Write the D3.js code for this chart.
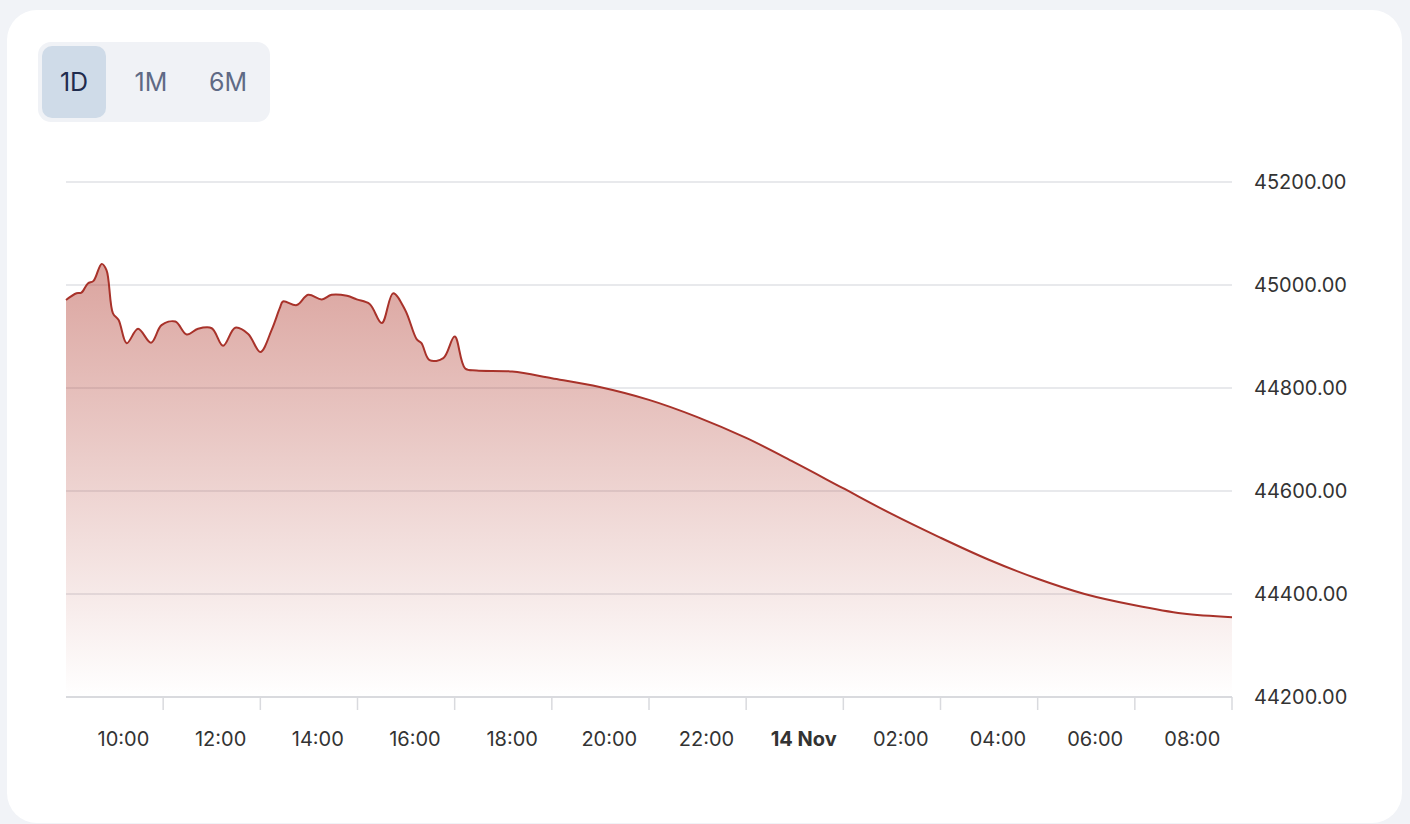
<!DOCTYPE html>
<html>
<head>
<meta charset="utf-8">
<script src="https://cdn.jsdelivr.net/npm/d3@7"></script>
<style>
  html, body { margin: 0; padding: 0; background: #f1f3f7; }
  svg { display: block; }
  text { font-family: Inter, "Noto Sans", sans-serif; }
</style>
</head>
<body>
<svg id="chart" width="1410" height="824"></svg>
<script>
// ---- data ----
const times = [
  "2023-11-13T08:49","2023-11-13T09:02","2023-11-13T09:08","2023-11-13T09:16","2023-11-13T09:23",
  "2023-11-13T09:33","2023-11-13T09:39","2023-11-13T09:47","2023-11-13T09:54","2023-11-13T10:04",
  "2023-11-13T10:18","2023-11-13T10:34","2023-11-13T10:47","2023-11-13T11:04","2023-11-13T11:18",
  "2023-11-13T11:32","2023-11-13T11:49","2023-11-13T12:03","2023-11-13T12:18","2023-11-13T12:34",
  "2023-11-13T12:49","2023-11-13T13:03","2023-11-13T13:13","2023-11-13T13:17","2023-11-13T13:34",
  "2023-11-13T13:48","2023-11-13T14:05","2023-11-13T14:17","2023-11-13T14:36","2023-11-13T14:48",
  "2023-11-13T15:04","2023-11-13T15:19","2023-11-13T15:33","2023-11-13T15:48","2023-11-13T16:02",
  "2023-11-13T16:08","2023-11-13T16:18","2023-11-13T16:35","2023-11-13T16:49","2023-11-13T17:02",
  "2023-11-13T17:16","2023-11-13T18:00","2023-11-13T18:49","2023-11-13T19:48","2023-11-13T20:49",
  "2023-11-13T21:48","2023-11-13T22:49","2023-11-13T23:48","2023-11-14T00:48","2023-11-14T01:48",
  "2023-11-14T02:48","2023-11-14T03:48","2023-11-14T04:48","2023-11-14T05:47","2023-11-14T06:49",
  "2023-11-14T07:48","2023-11-14T08:49"
];
const prices = [
  44971, 44984, 44985, 45003, 45008,
  45041, 45029, 44945, 44932, 44887,
  44915, 44888, 44922, 44929, 44904,
  44915, 44916, 44882, 44917, 44905,
  44870, 44913, 44955, 44968, 44961,
  44981, 44972, 44981, 44979, 44972,
  44963, 44926, 44984, 44951, 44895,
  44887, 44854, 44858, 44900, 44838,
  44834, 44832, 44819, 44802, 44777,
  44744, 44703, 44656, 44606, 44556,
  44510, 44467, 44430, 44400, 44378,
  44362, 44355
];
const yTicks = [44200, 44400, 44600, 44800, 45000, 45200];
const xTickLabels = [
  ["2023-11-13T10:00","10:00"],["2023-11-13T12:00","12:00"],["2023-11-13T14:00","14:00"],
  ["2023-11-13T16:00","16:00"],["2023-11-13T18:00","18:00"],["2023-11-13T20:00","20:00"],
  ["2023-11-13T22:00","22:00"],["2023-11-14T00:00","14 Nov"],["2023-11-14T02:00","02:00"],
  ["2023-11-14T04:00","04:00"],["2023-11-14T06:00","06:00"],["2023-11-14T08:00","08:00"]
];
const ranges = ["1D", "1M", "6M"];
const activeRange = "1D";
const domainStart = "2023-11-13T08:49";
const domainEnd = "2023-11-14T08:49";

// ---- setup ----
const parse = d3.timeParse("%Y-%m-%dT%H:%M");
const data = times.map((t, i) => ({ t: parse(t), v: prices[i] }));
const svg = d3.select("#chart");

const pLeft = 66, pRight = 1232, pTop = 182, pBottom = 697;
const x = d3.scaleTime().domain([parse(domainStart), parse(domainEnd)]).range([pLeft, pRight]);
const y = d3.scaleLinear().domain([44200, 45200]).range([pBottom, pTop]);

// card
svg.append("rect").attr("x", 7).attr("y", 10).attr("width", 1395).attr("height", 813)
  .attr("rx", 30).attr("fill", "#ffffff");

// range buttons
const btnG = svg.append("g");
btnG.append("rect").attr("x", 38).attr("y", 42).attr("width", 232).attr("height", 80)
  .attr("rx", 13).attr("fill", "#f0f2f6");
const btnX = d3.scalePoint().domain(ranges).range([74, 228]);
ranges.forEach(r => {
  if (r === activeRange) {
    btnG.append("rect").attr("x", btnX(r) - 32).attr("y", 46).attr("width", 64).attr("height", 72)
      .attr("rx", 10).attr("fill", "#cfdbe8");
  }
  btnG.append("text").attr("x", btnX(r)).attr("y", 82).attr("text-anchor", "middle")
    .attr("dominant-baseline", "central")
    .attr("font-size", 25).attr("fill", r === activeRange ? "#1f2b4d" : "#5f6a85").text(r);
});

// gridlines + y labels
const gy = svg.append("g");
yTicks.forEach(v => {
  if (v !== 44200) {
    gy.append("line").attr("x1", pLeft).attr("x2", pRight).attr("y1", y(v)).attr("y2", y(v))
      .attr("stroke", "#e1e2e6").attr("stroke-width", 1.5);
  }
  gy.append("text").attr("x", 1254).attr("y", y(v)).attr("dy", "0.36em")
    .attr("font-size", 20).attr("fill", "#333333").text(v.toFixed(2));
});

// gradient
const defs = svg.append("defs");
const grad = defs.append("linearGradient").attr("id", "areaGrad")
  .attr("gradientUnits", "userSpaceOnUse")
  .attr("x1", 0).attr("x2", 0).attr("y1", y(d3.max(prices))).attr("y2", pBottom);
grad.append("stop").attr("offset", "0%").attr("stop-color", "#b0392d").attr("stop-opacity", 0.46);
grad.append("stop").attr("offset", "100%").attr("stop-color", "#b0392d").attr("stop-opacity", 0.0);

const curve = d3.curveCatmullRom.alpha(0.5);
const area = d3.area().x(d => x(d.t)).y0(pBottom).y1(d => y(d.v)).curve(curve);
const line = d3.line().x(d => x(d.t)).y(d => y(d.v)).curve(curve);

svg.append("path").datum(data).attr("d", area).attr("fill", "url(#areaGrad)");
svg.append("path").datum(data).attr("d", line).attr("fill", "none")
  .attr("stroke", "#a8322a").attr("stroke-width", 2);

// x axis line + tick marks (every 2h from the domain start)
const ax = svg.append("g");
ax.append("line").attr("x1", pLeft).attr("x2", pRight).attr("y1", pBottom).attr("y2", pBottom)
  .attr("stroke", "#d9dade").attr("stroke-width", 2);
const start = parse(domainStart);
for (let k = 1; k <= 12; k++) {
  const t = d3.timeHour.offset(start, 2 * k);
  ax.append("line").attr("x1", x(t)).attr("x2", x(t)).attr("y1", pBottom).attr("y2", pBottom + 13)
    .attr("stroke", "#d9dade").attr("stroke-width", 1.5);
}
xTickLabels.forEach(([t, lbl]) => {
  ax.append("text").attr("x", x(parse(t))).attr("y", 746).attr("text-anchor", "middle")
    .attr("font-size", 20).attr("fill", "#333333")
    .attr("font-weight", lbl.indexOf("Nov") >= 0 ? 700 : 400).text(lbl);
});
</script>
</body>
</html>
